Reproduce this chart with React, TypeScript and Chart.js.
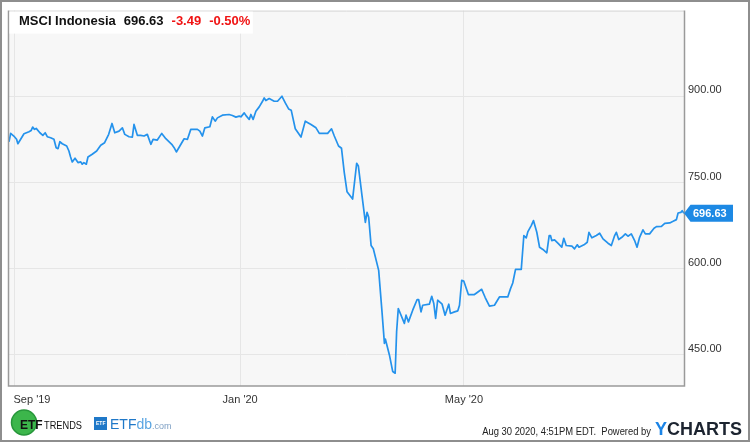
import React, { useEffect, useRef } from "react";
import { Chart, registerables } from "chart.js";

Chart.register(...registerables);

// x = days since 2020-01-01
const days = [
  -125, -124.1, -122.4, -120.9, -120.2, -118.7, -116.9, -114.2, -113.0, -112.2,
  -111.2, -110.3, -108.3, -106.7, -105.4, -104.3, -102.5, -100.7, -99.5, -98.5,
  -97.5, -96.2, -93.8, -92.6, -91.7, -90.8, -89.3, -87.7, -86.2, -85.4,
  -84.5, -83.2, -82.3, -80.0, -77.6, -75.4, -73.3, -71.1, -69.3, -67.8,
  -65.5, -63.7, -62.4, -60.1, -58.3, -57.4, -55.6, -53.8, -52.0, -50.2,
  -48.3, -47.1, -44.8, -42.4, -40.2, -37.0, -35.7, -34.5, -32.6, -30.3,
  -28.5, -26.7, -23.1, -21.8, -20.4, -19.1, -16.4, -15.0, -13.5, -12.3,
  -9.6, -6.0, -4.2, -2.3, -0.5, 0.4, 2.2, 3.4, 4.9, 5.8,
  7.0, 8.5, 10.3, 12.1, 13.0, 13.9, 15.7, 18.4, 20.2, 22.6,
  24.4, 26.2, 27.6, 29.8, 32.9, 35.2, 38.3, 41.0, 42.8, 47.3,
  49.4, 50.9, 53.2, 54.8, 56.3, 57.8, 60.8, 63.0, 63.9, 65.9,
  67.7, 68.6, 69.5, 70.8, 72.0, 74.9, 76.7, 78.0, 78.5, 80.7,
  82.5, 83.8, 84.6, 85.5, 88.8, 89.7, 91.0, 93.3, 95.7, 96.5,
  97.8, 98.7, 102.3, 103.6, 104.7, 105.7, 106.8, 109.2, 110.8, 112.8,
  113.7, 115.9, 117.7, 118.6, 119.8, 120.9, 123.4, 126.7, 130.6, 132.5,
  134.8, 137.5, 140.2, 144.7, 146.2, 147.4, 148.9, 152.0, 153.4, 154.7,
  155.6, 157.4, 158.6, 160.4, 161.9, 163.7, 165.8, 167.1, 167.8, 168.5,
  170.0, 172.2, 173.9, 175.0, 176.3, 179.4, 180.8, 182.3, 183.2, 185.9,
  187.7, 188.6, 190.2, 192.6, 194.4, 196.2, 198.9, 200.7, 202.5, 203.4,
  204.7, 206.4, 208.3, 209.7, 211.5, 213.3, 214.6, 216.0, 217.8, 219.1,
  221.4, 223.8, 225.1, 227.8, 229.6, 232.3, 234.1, 235.9, 236.8, 238.3,
  239.0, 240.0,
];

const prices = [
  820.9, 835.4, 830.8, 825.1, 817.4, 825.1, 834.7, 838.2, 840.6, 846.3,
  842.4, 844.1, 836.5, 832.0, 836.5, 829.6, 827.8, 825.1, 810.5, 808.8,
  820.9, 817.4, 813.5, 804.8, 794.4, 785.8, 792.2, 784.6, 785.8, 781.8,
  784.6, 781.8, 794.4, 799.1, 804.8, 814.7, 819.2, 833.7, 852.7, 836.5,
  839.4, 845.1, 833.7, 829.6, 829.0, 851.0, 832.0, 832.0, 830.8, 833.7,
  816.4, 825.1, 823.8, 835.4, 826.1, 816.4, 810.5, 803.1, 813.5, 826.1,
  825.1, 842.4, 842.4, 839.4, 830.8, 845.1, 846.9, 864.2, 856.7, 862.4,
  867.1, 868.3, 866.6, 863.7, 865.4, 864.2, 871.1, 865.4, 859.7, 868.3,
  859.7, 874.0, 881.5, 891.3, 897.1, 892.6, 896.0, 891.3, 891.3, 900.0,
  888.4, 878.0, 875.8, 843.4, 829.0, 856.7, 851.0, 845.1, 835.4, 835.4,
  843.4, 830.8, 813.5, 809.5, 767.2, 733.8, 721.2, 783.5, 778.8, 726.9,
  680.7, 698.0, 689.4, 640.4, 634.7, 597.1, 524.9, 470.2, 477.7, 450.0,
  421.1, 418.3, 490.3, 530.8, 504.9, 519.2, 507.6, 527.9, 546.4, 546.4,
  524.9, 536.5, 538.3, 552.1, 539.5, 513.5, 545.2, 538.3, 519.2, 538.3,
  522.2, 524.9, 526.7, 536.5, 579.8, 578.6, 555.1, 555.1, 564.2, 549.9,
  534.8, 536.5, 550.9, 550.9, 565.4, 575.1, 598.8, 598.8, 657.7, 653.7,
  664.6, 675.0, 683.7, 663.4, 637.4, 633.5, 627.7, 657.7, 657.7, 649.0,
  650.2, 643.3, 637.4, 653.0, 640.4, 639.2, 634.7, 641.6, 637.4, 641.6,
  646.1, 663.4, 653.7, 657.7, 661.7, 652.0, 644.4, 640.4, 657.7, 663.4,
  650.8, 654.7, 660.6, 656.5, 660.6, 649.0, 637.4, 654.7, 667.6, 660.6,
  660.6, 670.3, 673.3, 673.8, 679.0, 679.7, 682.4, 685.4, 697.0, 698.0,
  700.9, 696.63,
];

const xTickDays = [-122, 0, 121];
const xTickLabels = ["Sep '19", "Jan '20", "May '20"];
const yTickValues = [450, 600, 750, 900];
const yMin = 396;
const yMax = 1049;

const seriesName = "MSCI Indonesia";
const changeAbs = -3.49;
const changePct = -0.5;
const timestampText = "Aug 30 2020, 4:51PM EDT.  Powered by";

const FONT = '"Liberation Sans", Arial, Helvetica, sans-serif';
const LINE_BLUE = "#2492ec";
const TAG_BLUE = "#1d89e4";

const decorPlugin = {
  id: "decor",
  beforeDraw(chart: any) {
    const { ctx, chartArea: a } = chart;
    ctx.save();
    ctx.fillStyle = "#ffffff";
    ctx.fillRect(0, 0, chart.width, chart.height);
    ctx.fillStyle = "#f7f7f7";
    ctx.fillRect(a.left, a.top, a.right - a.left, a.bottom - a.top);
    ctx.restore();
  },
  afterDraw(chart: any) {
    const { ctx, chartArea: a } = chart;
    const xs = chart.scales.x;
    const ys = chart.scales.y;
    ctx.save();

    // plot border
    ctx.strokeStyle = "#d6d6d6";
    ctx.lineWidth = 1;
    ctx.beginPath();
    ctx.moveTo(a.left, a.top + 0.5);
    ctx.lineTo(a.right, a.top + 0.5);
    ctx.stroke();
    ctx.strokeStyle = "#9a9a9a";
    ctx.lineWidth = 1.5;
    ctx.beginPath();
    ctx.moveTo(a.left - 0.5, a.top);
    ctx.lineTo(a.left - 0.5, a.bottom);
    ctx.lineTo(a.right + 0.5, a.bottom);
    ctx.lineTo(a.right + 0.5, a.top);
    ctx.stroke();

    // outer border
    ctx.strokeStyle = "#8e8e8e";
    ctx.lineWidth = 2;
    ctx.strokeRect(1, 1, chart.width - 2, chart.height - 2);

    // title box
    const last = prices[prices.length - 1];
    const parts = [
      { t: seriesName, c: "#111111" },
      { t: last.toFixed(2), c: "#111111" },
      { t: changeAbs.toFixed(2), c: "#f01414" },
      { t: changePct.toFixed(2) + "%", c: "#f01414" },
    ];
    ctx.font = "bold 13px " + FONT;
    let x = 19;
    const positions: number[] = [];
    parts.forEach((p) => {
      positions.push(x);
      x += ctx.measureText(p.t).width + 8;
    });
    ctx.fillStyle = "#ffffff";
    ctx.fillRect(a.left + 0.5, a.top + 1, x - 6 - a.left, 22);
    ctx.textBaseline = "alphabetic";
    ctx.textAlign = "left";
    parts.forEach((p, i) => {
      ctx.fillStyle = p.c;
      ctx.fillText(p.t, positions[i], 25);
    });

    // x labels
    ctx.font = "11px " + FONT;
    ctx.fillStyle = "#333333";
    xTickDays.forEach((d, i) => {
      const px = xs.getPixelForValue(d);
      const w = ctx.measureText(xTickLabels[i]).width;
      const left = Math.max(px - w / 2, a.left + 4.5);
      ctx.fillText(xTickLabels[i], left, 402.5);
    });

    // last value tag
    const ty = ys.getPixelForValue(last);
    const tx = xs.getPixelForValue(days[days.length - 1]);
    ctx.fillStyle = TAG_BLUE;
    ctx.beginPath();
    ctx.moveTo(tx, ty);
    ctx.lineTo(tx + 6.5, ty - 8.5);
    ctx.lineTo(733, ty - 8.5);
    ctx.lineTo(733, ty + 8.5);
    ctx.lineTo(tx + 6.5, ty + 8.5);
    ctx.closePath();
    ctx.fill();
    ctx.fillStyle = "#ffffff";
    ctx.font = "bold 11px " + FONT;
    ctx.fillText(last.toFixed(2), 693, ty + 4);

    // ETF TRENDS logo
    ctx.beginPath();
    ctx.arc(24, 422.5, 12.5, 0, Math.PI * 2);
    ctx.fillStyle = "#3cb64b";
    ctx.fill();
    ctx.lineWidth = 1.5;
    ctx.strokeStyle = "#27963a";
    ctx.stroke();
    ctx.fillStyle = "#111111";
    ctx.font = "bold 12px " + FONT;
    ctx.fillText("ETF", 20, 428.5);
    ctx.save();
    ctx.translate(44, 428.5);
    ctx.scale(0.84, 1);
    ctx.font = "11px " + FONT;
    ctx.fillText("TRENDS", 0, 0);
    ctx.restore();

    // ETFdb logo
    ctx.fillStyle = "#1f78c8";
    ctx.fillRect(94, 417, 13, 13);
    ctx.fillStyle = "#ffffff";
    ctx.font = "bold 5px " + FONT;
    ctx.fillText("ETF", 96, 425);
    ctx.font = "14px " + FONT;
    ctx.fillStyle = "#1f78c8";
    ctx.fillText("ETF", 110, 429);
    let ex = 110 + ctx.measureText("ETF").width;
    ctx.fillStyle = "#5aa5e2";
    ctx.fillText("db", ex, 429);
    ex += ctx.measureText("db").width;
    ctx.font = "9px " + FONT;
    ctx.fillStyle = "#7d9fc4";
    ctx.fillText(".com", ex, 429);

    // footer
    ctx.save();
    ctx.translate(651, 435);
    ctx.scale(0.94, 1);
    ctx.font = "10px " + FONT;
    ctx.fillStyle = "#222222";
    ctx.textAlign = "right";
    ctx.fillText(timestampText, 0, 0);
    ctx.restore();
    ctx.textAlign = "left";
    ctx.font = "bold 18px " + FONT;
    ctx.fillStyle = "#1b84e6";
    ctx.fillText("Y", 655, 434.5);
    const yw = ctx.measureText("Y").width;
    ctx.fillStyle = "#1c2430";
    ctx.fillText("CHARTS", 655 + yw, 434.5);

    ctx.restore();
  },
};

export default function App() {
  const ref = useRef<HTMLCanvasElement | null>(null);

  useEffect(() => {
    if (!ref.current) return;
    const points = days.map((d, i) => ({ x: d, y: prices[i] }));
    const chart = new Chart(ref.current, {
      type: "line",
      data: {
        datasets: [
          {
            data: points,
            borderColor: LINE_BLUE,
            borderWidth: 1.7,
            pointRadius: 0,
            tension: 0,
            fill: false,
            borderJoinStyle: "round",
          },
        ],
      },
      options: {
        responsive: false,
        animation: false,
        devicePixelRatio: 1,
        layout: { padding: { left: 9, top: 9, right: 0, bottom: 56 } },
        plugins: {
          legend: { display: false },
          tooltip: { enabled: false },
          title: { display: false },
        },
        scales: {
          x: {
            type: "linear",
            min: days[0],
            max: days[days.length - 1],
            afterBuildTicks: (s: any) => {
              s.ticks = xTickDays.map((v) => ({ value: v }));
            },
            afterFit: (s: any) => {
              s.height = 0;
            },
            ticks: { display: false },
            grid: { color: "#e6e6e6", drawTicks: false, lineWidth: 1 },
            border: { display: false },
          },
          y: {
            type: "linear",
            position: "right",
            min: yMin,
            max: yMax,
            afterBuildTicks: (s: any) => {
              s.ticks = yTickValues.map((v) => ({ value: v }));
            },
            afterFit: (s: any) => {
              s.width = 66;
            },
            ticks: {
              callback: (v: any) => Number(v).toFixed(2),
              font: { family: FONT, size: 11 },
              color: "#333333",
              padding: 4,
              labelOffset: -6,
            },
            grid: { color: "#e6e6e6", drawTicks: false, lineWidth: 1 },
            border: { display: false },
          },
        },
      },
      plugins: [decorPlugin],
    } as any);
    return () => chart.destroy();
  }, []);

  return (
    <div style={{ position: "fixed", left: 0, top: 0, width: 750, height: 442 }}>
      <canvas ref={ref} width={750} height={442} style={{ display: "block" }} />
    </div>
  );
}
